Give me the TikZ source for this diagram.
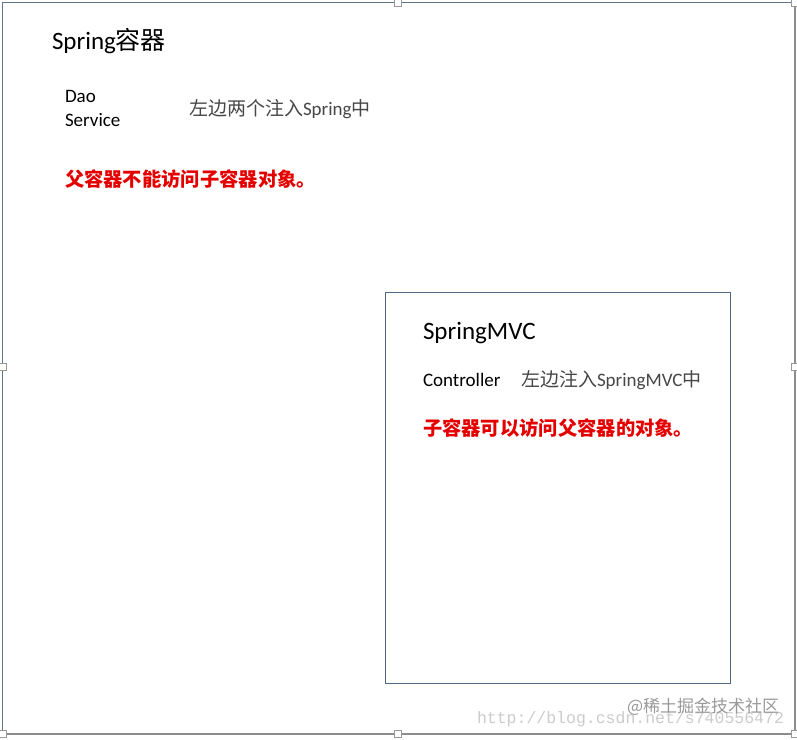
\documentclass[tikz,border=0pt]{standalone}
\usepackage{fontspec}
\setmainfont{Carlito}
\setmonofont{Liberation Mono}
\newfontfamily\cjk{Noto Sans CJK SC}
\begin{document}
\begin{tikzpicture}[x=1pt,y=-1pt,
  every node/.style={inner sep=0pt, outer sep=0pt, anchor=west},
  title/.style={font=\fontsize{25}{28}\selectfont, text=black},
  body/.style={font=\fontsize{19}{24}\selectfont, text=black},
  note/.style={font=\fontsize{19}{24}\selectfont, text=black!72},
  warn/.style={font=\cjk\bfseries\fontsize{19.3}{24}\selectfont, text=red!90!black},
  handle/.style={draw=black!40, fill=white, line width=0.8pt, minimum size=7pt, anchor=center},
  mark1/.style={font=\cjk\fontsize{17}{20}\selectfont, text=black!40},
  mark2/.style={font=\ttfamily\fontsize{16.5}{20}\selectfont, text=black!20}]
\useasboundingbox (0,0) rectangle (797,739);
\fill[white] (0,0) rectangle (797,739);
% outer frame
\draw[draw=black!45, line width=1.2pt] (2.5,2.5) rectangle (795,734);
\draw[draw={rgb,255:red,100;green,115;blue,140}, line width=1.2pt] (2.5,734) -- (2.5,2.5) -- (795,2.5);
% inner box
\node[draw={rgb,255:red,80;green,105;blue,130}, line width=0.9pt, minimum width=345pt, minimum height=391pt, anchor=north west] (mvc) at (385.5,292.5) {};
% texts of the parent container
\node[title] (t1) at (52,41) {Spring{\cjk 容器}};
\node[body] (dao) at (65,96) {Dao};
\node[body] (svc) at (65,120) {Service};
\node[note] (n1) at (189,109) {{\cjk 左边两个注入}Spring{\cjk 中}};
\node[warn] (w1) at (65,179) {父容器不能访问子容器对象。};
% texts of the child container
\node[title] (t2) at (423,333) {SpringMVC};
\node[body] (ctl) at (423,380) {Controller};
\node[note] (n2) at (521,380) {{\cjk 左边注入}SpringMVC{\cjk 中}};
\node[warn] (w2) at (423,428) {子容器可以访问父容器的对象。};
% watermarks
\node[mark2] (wm2) at (477,719) {http://blog.csdn.net/s740556472};
\node[mark1] (wm1) at (627,707) {@稀土掘金技术社区};
% selection handles
\foreach \p/\n in {{398,3}/h1,{795,3}/h2,{3,367}/h3,{795,367}/h4,{3,734}/h5,{398,734}/h6,{795,734}/h7}
  \node[handle] (\n) at (\p) {};
\end{tikzpicture}
\end{document}
